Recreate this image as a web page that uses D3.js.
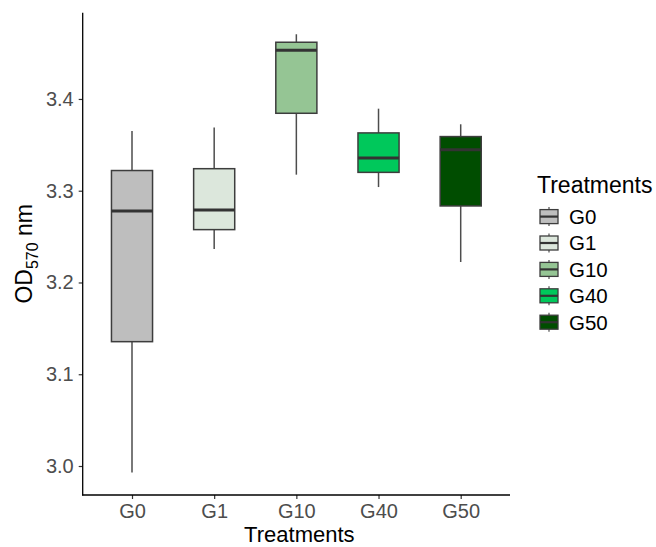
<!DOCTYPE html>
<html>
<head>
<meta charset="utf-8">
<script src="https://cdn.jsdelivr.net/npm/d3@7"></script>
<style>
  html, body { margin: 0; padding: 0; background: #fff; }
  svg { display: block; font-family: Arial, "Liberation Sans", sans-serif; }
</style>
</head>
<body>
<svg id="chart" width="656" height="547"></svg>
<script>
const categories = ["G0", "G1", "G10", "G40", "G50"];
const whiskerLow  = [2.993, 3.2365, 3.3175, 3.304, 3.2223];
const q1          = [3.1355, 3.2576, 3.3844, 3.320, 3.2834];
const medians     = [3.278, 3.279, 3.453, 3.3357, 3.3447];
const q3          = [3.322, 3.324, 3.4618, 3.363, 3.359];
const whiskerHigh = [3.365, 3.369, 3.4705, 3.3894, 3.3724];
const fills       = ["#bebebe", "#dce7dc", "#95c594", "#00c85b", "#004d00"];
const yTicks      = [3.0, 3.1, 3.2, 3.3, 3.4];
const yDomain     = [2.9684, 3.494];

(function () {
const rows = categories.map((c, i) => ({
  cat: c, lo: whiskerLow[i], q1: q1[i], med: medians[i], q3: q3[i], hi: whiskerHigh[i], fill: fills[i]
}));

const svg = d3.select("#chart");
const pLeft = 82.7, pRight = 510, pTop = 12.7, pBottom = 495;

const x = d3.scalePoint().domain(categories).range([pLeft, pRight]).padding(0.6);
const y = d3.scaleLinear().domain(yDomain).range([pBottom, pTop]);
const color = d3.scaleOrdinal().domain(categories).range(fills);
const boxW = x.step() * 0.5;

const boxStroke = "#3d3d3d";
const g = svg.append("g");

// whiskers
g.selectAll(".whisk-up").data(rows).join("line")
  .attr("x1", d => x(d.cat)).attr("x2", d => x(d.cat))
  .attr("y1", d => y(d.q3)).attr("y2", d => y(d.hi))
  .attr("stroke", "#4d4d4d").attr("stroke-width", 1.5);
g.selectAll(".whisk-dn").data(rows).join("line")
  .attr("x1", d => x(d.cat)).attr("x2", d => x(d.cat))
  .attr("y1", d => y(d.q1)).attr("y2", d => y(d.lo))
  .attr("stroke", "#4d4d4d").attr("stroke-width", 1.5);

// boxes
g.selectAll(".box").data(rows).join("rect")
  .attr("x", d => x(d.cat) - boxW / 2).attr("width", boxW)
  .attr("y", d => y(d.q3)).attr("height", d => y(d.q1) - y(d.q3))
  .attr("fill", d => color(d.cat)).attr("stroke", boxStroke).attr("stroke-width", 1.5);

// medians
g.selectAll(".med").data(rows).join("line")
  .attr("x1", d => x(d.cat) - boxW / 2).attr("x2", d => x(d.cat) + boxW / 2)
  .attr("y1", d => y(d.med)).attr("y2", d => y(d.med))
  .attr("stroke", "#333333").attr("stroke-width", 3);

// axes
const xAxis = svg.append("g").attr("transform", `translate(0,${pBottom})`)
  .call(d3.axisBottom(x).tickSize(4).tickPadding(5));
xAxis.select(".domain").remove();
xAxis.selectAll(".tick line").attr("stroke", "#333").attr("stroke-width", 1.2);
xAxis.selectAll(".tick text").attr("fill", "#4d4d4d").style("font-size", "20px").attr("dy", "0.71em");

const yAxis = svg.append("g").attr("transform", `translate(${pLeft},0)`)
  .call(d3.axisLeft(y).tickValues(yTicks).tickFormat(d3.format(".1f")).tickSize(4).tickPadding(5));
yAxis.select(".domain").remove();
yAxis.selectAll(".tick line").attr("stroke", "#333").attr("stroke-width", 1.2);
yAxis.selectAll(".tick text").attr("fill", "#4d4d4d").style("font-size", "20px");

// axis lines
svg.append("line").attr("x1", pLeft).attr("x2", pLeft).attr("y1", pTop).attr("y2", pBottom + 0.6)
  .attr("stroke", "#000").attr("stroke-width", 1.3);
svg.append("line").attr("x1", pLeft - 0.6).attr("x2", pRight).attr("y1", pBottom).attr("y2", pBottom)
  .attr("stroke", "#000").attr("stroke-width", 1.3);

// axis titles
svg.append("text").attr("x", (pLeft + pRight) / 2 + 3).attr("y", 542)
  .attr("text-anchor", "middle").style("font-size", "22px").attr("fill", "#000").text("Treatments");

const yt = svg.append("text")
  .attr("transform", `translate(32,${(pTop + pBottom) / 2}) rotate(-90)`)
  .attr("text-anchor", "middle").style("font-size", "23px").attr("fill", "#000");
yt.append("tspan").text("OD");
yt.append("tspan").attr("dy", 6).style("font-size", "16px").text("570");
yt.append("tspan").attr("dy", -6).text(" nm");

// legend
const lg = svg.append("g");
lg.append("text").attr("x", 537).attr("y", 193).style("font-size", "23px").attr("fill", "#000").text("Treatments");
const keyY0 = 216.6, keyStep = 26.4;
const items = lg.selectAll(".item").data(categories).join("g")
  .attr("transform", (d, i) => `translate(549,${keyY0 + i * keyStep})`);
items.append("line").attr("x1", 0).attr("x2", 0).attr("y1", -9.5).attr("y2", 9.5)
  .attr("stroke", "#4d4d4d").attr("stroke-width", 1.2);
items.append("rect").attr("x", -9).attr("y", -7).attr("width", 18).attr("height", 14)
  .attr("fill", d => color(d)).attr("stroke", boxStroke).attr("stroke-width", 1.3);
items.append("line").attr("x1", -9).attr("x2", 9).attr("y1", 0).attr("y2", 0)
  .attr("stroke", "#333").attr("stroke-width", 2.2);
items.append("text").attr("x", 20).attr("y", 0).attr("dy", "0.36em")
  .style("font-size", "20.5px").attr("fill", "#000").text(d => d);
})();
</script>
</body>
</html>
